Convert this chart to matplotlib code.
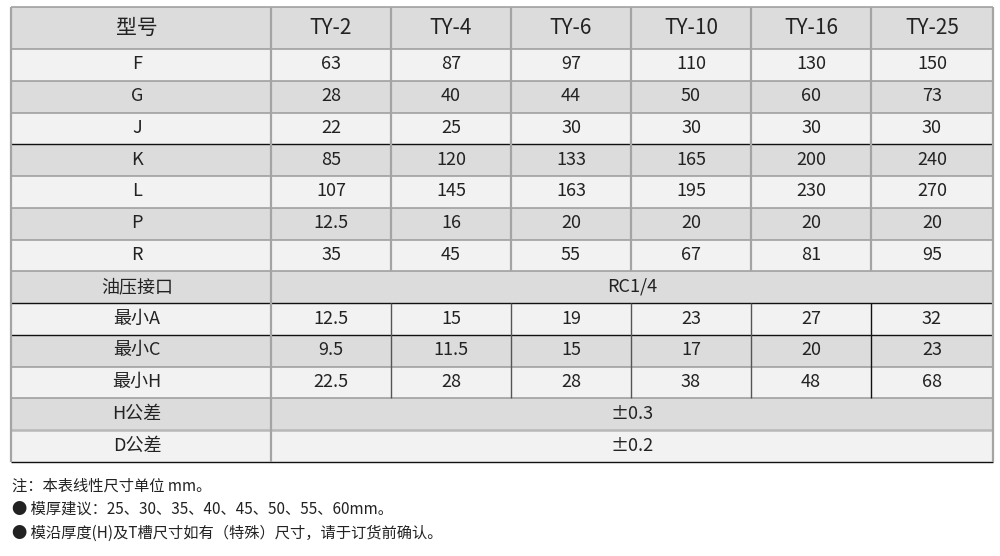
import matplotlib
matplotlib.use("Agg")
import matplotlib.pyplot as plt
from matplotlib.patches import Rectangle

plt.rcParams['font.family'] = ['Noto Sans CJK SC', 'DejaVu Sans']

# ---- data ----
header_label = "型号"
models = ["TY-2", "TY-4", "TY-6", "TY-10", "TY-16", "TY-25"]
row_labels = ["F", "G", "J", "K", "L", "P", "R", "油压接口", "最小A", "最小C", "最小H", "H公差", "D公差"]
F = ["63", "87", "97", "110", "130", "150"]
G = ["28", "40", "44", "50", "60", "73"]
J = ["22", "25", "30", "30", "30", "30"]
K = ["85", "120", "133", "165", "200", "240"]
L = ["107", "145", "163", "195", "230", "270"]
P = ["12.5", "16", "20", "20", "20", "20"]
R = ["35", "45", "55", "67", "81", "95"]
oil_port = "RC1/4"
min_A = ["12.5", "15", "19", "23", "27", "32"]
min_C = ["9.5", "11.5", "15", "17", "20", "23"]
min_H = ["22.5", "28", "28", "38", "48", "68"]
H_tol = "±0.3"
D_tol = "±0.2"
notes = ["注：本表线性尺寸单位 mm。",
         "● 模厚建议：25、30、35、40、45、50、55、60mm。",
         "● 模沿厚度(H)及T槽尺寸如有（特殊）尺寸，请于订货前确认。"]

row_values = [F, G, J, K, L, P, R, oil_port, min_A, min_C, min_H, H_tol, D_tol]

# ---- layout ----
W, H = 1000, 556
fig = plt.figure(figsize=(W / 100, H / 100), dpi=100)
ax = fig.add_axes([0, 0, 1, 1])
ax.set_xlim(0, W)
ax.set_ylim(H, 0)
ax.axis("off")

x_left, x_first, x_right = 11, 271, 993
col_w = 120
col_edges = [x_first + i * col_w for i in range(6)] + [x_right]
y_top, y_head = 7, 49
y_bottom = 462
n = len(row_labels)
rh = (y_bottom - y_head) / n
row_edges = [y_top, y_head] + [y_head + (i + 1) * rh for i in range(n)]

gray_bg = "#dcdcdc"
light_bg = "#f2f2f2"
txt = "#222222"
grid = "#9a9a9a"
vgrid = "#a4a4a4"
dark = "#111111"

# backgrounds
ax.add_patch(Rectangle((x_left, y_top), x_right - x_left, y_head - y_top, facecolor=gray_bg, edgecolor="none"))
for i in range(n):
    y0 = row_edges[i + 1]
    ax.add_patch(Rectangle((x_left, y0), x_right - x_left, rh,
                           facecolor=(gray_bg if i % 2 == 1 else light_bg), edgecolor="none"))

# text
first_cx = 137
ax.text(first_cx, (y_top + y_head) / 2, header_label, ha="center", va="center", fontsize=15, color=txt)
for j, m in enumerate(models):
    cx = (col_edges[j] + col_edges[j + 1]) / 2
    ax.text(cx, (y_top + y_head) / 2, m, ha="center", va="center", fontsize=15, color=txt)

merged_cx = (x_first + x_right) / 2
for i, (lab, vals) in enumerate(zip(row_labels, row_values)):
    cy = row_edges[i + 1] + rh / 2 - 0.5
    ax.text(first_cx, cy, lab, ha="center", va="center", fontsize=13, color=txt)
    if isinstance(vals, str):
        ax.text(merged_cx, cy, vals, ha="center", va="center", fontsize=13, color=txt)
    else:
        for j, v in enumerate(vals):
            cx = (col_edges[j] + col_edges[j + 1]) / 2
            ax.text(cx, cy, v, ha="center", va="center", fontsize=13, color=txt)

# horizontal lines
dark_rows = {4, 9, 10, 14}
for k, y in enumerate(row_edges):
    if k in dark_rows:
        ax.plot([x_left, x_right], [y, y], color=dark, lw=1.0, solid_capstyle="butt")
    elif k == 13:
        ax.plot([x_left, x_right], [y, y], color="#b8b8b8", lw=1.8, solid_capstyle="butt")
    else:
        ax.plot([x_left, x_right], [y, y], color=grid, lw=1.1, solid_capstyle="butt")

# vertical lines
for x in [x_left, x_first, x_right]:
    ax.plot([x, x], [y_top, y_bottom], color=vgrid, lw=1.6, solid_capstyle="butt")
for j, x in enumerate(col_edges[1:-1]):
    ax.plot([x, x], [y_top, row_edges[8]], color=vgrid, lw=1.6, solid_capstyle="butt")
    ax.plot([x, x], [row_edges[9], row_edges[12]], color=("#111111" if j == 4 else "#555555"),
            lw=1.0, solid_capstyle="butt")

# notes
for k, s in enumerate(notes):
    ax.text(12, 486 + k * 23.5, s, ha="left", va="center", fontsize=11, color=txt)

fig.savefig("out.png", dpi=100, facecolor="white")
